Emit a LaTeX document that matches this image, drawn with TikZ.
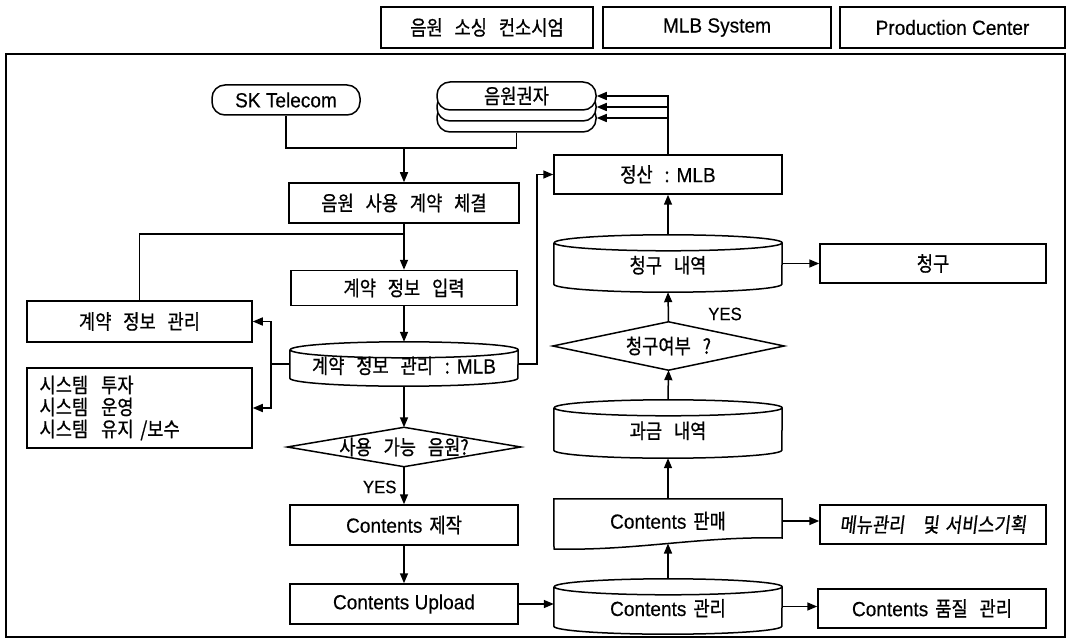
\documentclass[tikz,border=0pt]{standalone}
\usepackage{fontspec}
\setmainfont{Liberation Sans}[FakeStretch=0.93,FakeBold=0.3]
\newfontfamily\kr{Noto Sans CJK KR}[Scale=1.0,FakeStretch=0.86,FakeBold=0.8,WordSpace=3]
\newfontfamily\krsl{Noto Sans CJK KR}[Scale=1.0,FakeStretch=0.86,FakeBold=0.8,FakeSlant=0.12,WordSpace=1.6]
\usetikzlibrary{arrows.meta,calc}

% cylinder outline around a (borderless) node; #2 = half width
\newcommand\drawdb[2]{%
  \draw[line] ([yshift=-8pt]#1.north west) -- ([yshift=8pt]#1.south west)
    arc[start angle=180,end angle=360,x radius=#2,y radius=8pt]
    -- ([yshift=-8pt]#1.north east)
    arc[start angle=0,end angle=180,x radius=#2,y radius=8pt]
    arc[start angle=180,end angle=360,x radius=#2,y radius=8pt];
}
% decision diamond around a (borderless) node
\newcommand\drawdia[1]{%
  \draw[line] (#1.west) -- (#1.north) -- (#1.east) -- (#1.south) -- cycle;
}
% wide gap between Korean words
\newcommand\kgap{\hspace{13pt}}

\begin{document}
\begin{tikzpicture}[x=1pt,y=-1pt,
  line/.style={line width=1.5pt},
  box/.style={draw,line width=1.5pt,inner sep=0pt,rectangle},
  ghost/.style={inner sep=0pt,rectangle},
  dbnode/.style={ghost,minimum width=228pt,text height=19pt,text depth=0pt},
  term/.style={draw,line width=1.5pt,inner sep=0pt,rounded corners=13pt,fill=white},
  arr/.style={line width=1.5pt,-{Triangle[length=10pt,width=8pt]}},
  every node/.style={font=\fontsize{20.5}{24}\selectfont},
  yes/.style={font=\fontsize{18}{20}\selectfont}]

\fill[white] (0,0) rectangle (1067,644);
\useasboundingbox (0,0) rectangle (1067,644);

% column headers
\node[box,minimum width=212pt,minimum height=41pt] (hsrc) at (487,27.5) {\kr 음원 소싱 컨소시엄\hspace{12pt}};
\node[box,minimum width=228pt,minimum height=41pt] (hmlb) at (717,27.5) {MLB System};
\node[box,minimum width=225pt,minimum height=41pt] (hprod) at (952.5,27.5) {Production Center};

% outer frame
\draw[line] (6,54) rectangle (1065,637);

% terminals
\node[term,minimum width=148pt,minimum height=30pt] (sk) at (286,100) {SK Telecom};
\node[term,minimum width=159pt,minimum height=28pt] (rh3) at (516.5,118) {};
\node[term,minimum width=159pt,minimum height=28pt] (rh2) at (516.5,107) {};
\node[term,minimum width=159pt,minimum height=28pt] (rh) at (516.5,96) {\kr 음원권자};

% left column
\node[box,minimum width=230pt,minimum height=40pt] (contract) at (404,203) {\kr 음원 사용 계약 체결};
\node[box,minimum width=226pt,minimum height=35pt] (input) at (404,288) {\kr 계약 정보 입력};
\node[dbnode,minimum height=44pt] (db1) at (404,364) {{\kr 계약 정보 관리 :} MLB};
\node[ghost,minimum width=233pt,minimum height=39pt] (dia1) at (404,447) {\kr 사용 가능 음원?};
\node[yes,anchor=east] (yes1) at (400,487) {YES};
\node[box,minimum width=228pt,minimum height=40pt] (make) at (404,525) {Contents\hspace{7pt}{\kr 제작}};
\node[box,minimum width=228pt,minimum height=40pt] (upload) at (404,604) {Contents Upload};

% side boxes
\node[box,minimum width=225pt,minimum height=80pt,text width=200pt,inner xsep=12.5pt,align=left,
      font=\fontsize{20.5}{22}\selectfont\kr] (sys) at (139.5,408) {시스템\kgap 투자\\시스템\kgap 운영\\시스템\kgap 유지 /보수};
\node[box,minimum width=225pt,minimum height=41pt] (mg) at (139.5,321.5) {\kr 계약 정보 관리};

% right column
\node[box,minimum width=228pt,minimum height=39pt] (js) at (668,174.5) {{\kr 정산 :} MLB};
\node[dbnode,minimum height=57pt] (db2) at (668,263.5) {\kr 청구 내역};
\node[ghost,minimum width=231pt,minimum height=48pt] (dia2) at (668.5,346) {\kr 청구여부 ?};
\node[yes] (yes2) at (725,314) {YES};
\node[dbnode,minimum height=58pt] (db3) at (668,429) {\kr 과금 내역};
\node[ghost,minimum width=228pt,minimum height=44pt] (sales) at (668,521) {Contents\hspace{7pt}{\kr 판매}};
\node[dbnode,minimum height=55pt] (db4) at (668,606.5) {Contents\hspace{7pt}{\kr 관리}};

\node[box,minimum width=226pt,minimum height=39pt] (bill) at (933,263.5) {\kr 청구};
\node[box,minimum width=226pt,minimum height=39pt] (menu) at (933,524.5) {\krsl 메뉴관리\hspace{18pt}및 서비스기획};
\node[box,minimum width=228pt,minimum height=39pt] (quality) at (932,608.5) {Contents\hspace{7pt}{\kr 품질 관리}};

% shapes around borderless nodes
\drawdb{db1}{114pt}
\drawdb{db2}{114pt}
\drawdb{db3}{114pt}
\drawdb{db4}{114pt}
\drawdia{dia1}
\drawdia{dia2}
\draw[line] (sales.north west) -- (sales.north east) -- (782,538)
  .. controls (700,536) and (636,551) .. (554,549) coordinate[pos=0.5] (salesb) -- cycle;

% connectors: contract start
\coordinate (m1) at (404,148);
\draw[line] (sk.south) |- (m1);
\draw[line] (rh3.south) |- (m1);
\draw[arr] (m1) -- (contract.north);
\coordinate (m2) at (404,234);
\draw[line] (contract.south) -- (m2) -| (mg.north);
\draw[arr] (m2) -- (input.north);
\draw[arr] (input.south) -- (db1.north);
\draw[line] (db1.west) -- ++(-19,0) coordinate (m3);
\draw[arr] (m3) |- (mg.east);
\draw[arr] (m3) |- (sys.east);
\draw[arr] (db1.east) -- ++(19,0) |- (js.west);
\draw[arr] (db1.south) -- (dia1.north);
\draw[arr] (dia1.south) -- (make.north);
\draw[arr] (make.south) -- (upload.north);
\draw[arr] (upload.east) -- (upload.east -| db4.west);

% connectors: production and settlement
\draw[arr] (db4.east) -- (db4.east -| quality.west);
\draw[arr] (db4.north) -- (salesb);
\draw[arr] (sales.east) -- (sales.east -| menu.west);
\draw[arr] (sales.north) -- (db3.south);
\draw[arr] (db3.north) -- (dia2.south);
\draw[arr] (dia2.north) -- (db2.south);
\draw[arr] (db2.east) -- (bill.west);
\draw[arr] (db2.north) -- (js.south);
\draw[arr] (js.north) |- (rh.east);
\draw[arr] (js.north) |- (rh2.east);
\draw[arr] (js.north) |- (rh3.east);

\end{tikzpicture}
\end{document}
